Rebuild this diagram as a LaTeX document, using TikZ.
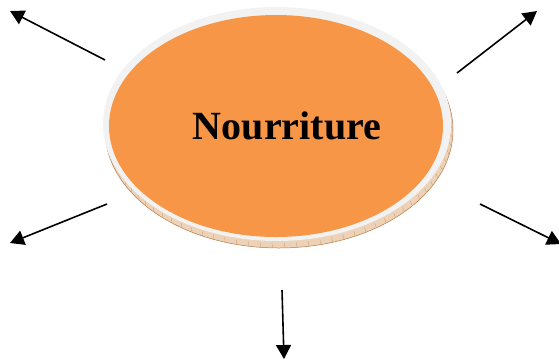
\documentclass[tikz,border=0pt]{standalone}
\usepackage{fontspec}
\setmainfont{Liberation Serif}
\usetikzlibrary{arrows.meta,positioning,shapes.geometric}
\definecolor{foodOrange}{HTML}{F79646}
\definecolor{rimGray}{HTML}{F2F2F2}
\definecolor{rimTan}{HTML}{EDD2B8}
\definecolor{rimBrown}{HTML}{B97A48}
\definecolor{blkInk}{HTML}{000000}
\tikzset{
  disc/.style    = {ellipse, inner sep=0pt, outer sep=0pt},
  discbase/.style= {disc, fill=rimTan, draw=rimBrown, line width=0.5pt,
                    minimum width=348pt, minimum height=236pt},
  discrim/.style = {disc, fill=rimGray, minimum width=348pt, minimum height=234pt},
  disctop/.style = {disc, fill=foodOrange, minimum width=334pt, minimum height=222pt},
  hublab/.style  = {font=\fontsize{40}{48}\selectfont\bfseries, text=blkInk},
  arr/.style     = {-{Triangle[length=14pt,width=15pt]}, line width=1.6pt, draw=blkInk},
}
\begin{document}
\begin{tikzpicture}[x=1pt, y=-1pt]
  \useasboundingbox (0,0) rectangle (559,360);
  % the disc: bevel, white rim, orange face
  \node[discbase] (base) at (279,130) {};
  \foreach \a in {0,4,...,164}{%
    \draw[rimBrown!70, line width=0.4pt]
      ({279+174*cos(\a)},{130+118*sin(\a)}) -- ({278+173*cos(\a)},{126+117*sin(\a)});}
  \node[discrim] (rim) at (277,124) {};
  \node[disctop] (food) at (276,126) {};
  \node[hublab] (foodlab) at (287,126) {Nourriture};
  % arrows, free ends
  \coordinate (ulTail) at (105,60);   \coordinate (ulTip) at (10,11);
  \coordinate (urTail) at (457,73);   \coordinate (urTip) at (537,11);
  \coordinate (llTail) at (107,204);  \coordinate (llTip) at (10,243);
  \coordinate (lrTail) at (480,204);  \coordinate (lrTip) at (561,244);
  \coordinate (dnTail) at (282,290);  \coordinate (dnTip) at (284,359);
  \draw[arr] (ulTail) -- (ulTip);
  \draw[arr] (urTail) -- (urTip);
  \draw[arr] (llTail) -- (llTip);
  \draw[arr] (lrTail) -- (lrTip);
  \draw[arr] (dnTail) -- (dnTip);
\end{tikzpicture}
\end{document}
